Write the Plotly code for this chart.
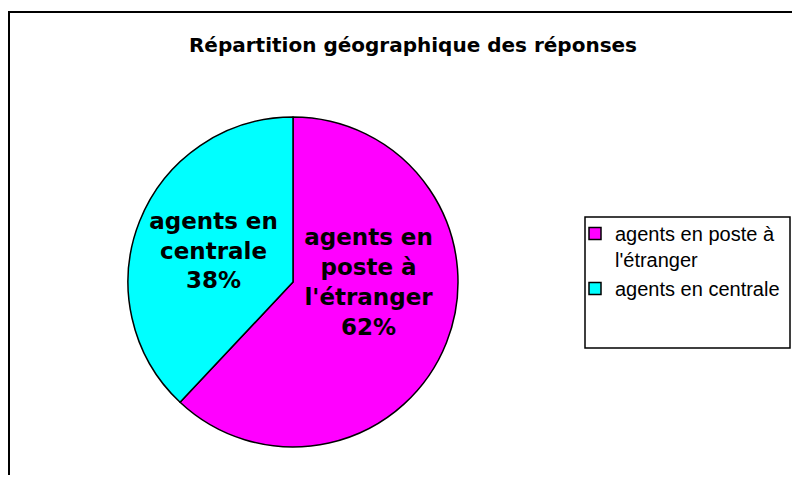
import plotly.graph_objects as go

# Data
labels = ["agents en poste à<br>l'étranger", "agents en centrale"]
slice_text = ["agents en<br>poste à<br>l'étranger", "agents en<br>centrale"]
values = [62, 38]
colors = ["#FF00FF", "#00FFFF"]
title_text = "Répartition géographique des réponses"

# The page body has an 8px margin; figure coordinates = screen coordinates - 8
OFF = 8
W, H = 800 - 2 * OFF, 483 - 2 * OFF


def px(x):
    return (x - OFF) / W


def py(y):
    return 1 - (y - OFF) / H


fig = go.Figure()
fig.add_trace(go.Pie(
    labels=labels,
    values=values,
    text=slice_text,
    sort=False,
    direction="clockwise",
    rotation=0,
    marker=dict(colors=colors, line=dict(color="black", width=1.5)),
    texttemplate="%{text}<br>%{percent:.0%}",
    textposition="inside",
    insidetextorientation="horizontal",
    textfont=dict(family="DejaVu Sans", size=23, color="black", weight="bold"),
    hoverinfo="label+percent",
    domain=dict(x=[px(128), px(458)], y=[py(447), py(117)]),
))

fig.update_layout(
    width=W, height=H,
    margin=dict(l=0, r=0, t=0, b=0),
    paper_bgcolor="white",
    plot_bgcolor="white",
    title=dict(
        text="<b>" + title_text + "</b>",
        x=px(413), xanchor="center",
        y=py(45), yanchor="middle",
        font=dict(family="DejaVu Sans", size=20, color="black"),
    ),
    showlegend=True,
    legend=dict(
        x=px(575), xanchor="left",
        y=py(214), yanchor="top",
        bgcolor="rgba(0,0,0,0)",
        borderwidth=0,
        valign="top",
        font=dict(family="Liberation Sans, Arial", size=20, color="black"),
        itemwidth=30,
    ),
    shapes=[
        # outer chart frame
        dict(type="rect", xref="paper", yref="paper",
             x0=px(9), x1=1.1, y0=-0.1, y1=py(12),
             line=dict(color="black", width=2), fillcolor="rgba(0,0,0,0)", layer="below"),
        # legend box
        dict(type="rect", xref="paper", yref="paper",
             x0=px(585), x1=px(790), y0=py(348), y1=py(217),
             line=dict(color="black", width=1.5), fillcolor="rgba(0,0,0,0)", layer="below"),
    ],
)

fig.write_html("out.html")
